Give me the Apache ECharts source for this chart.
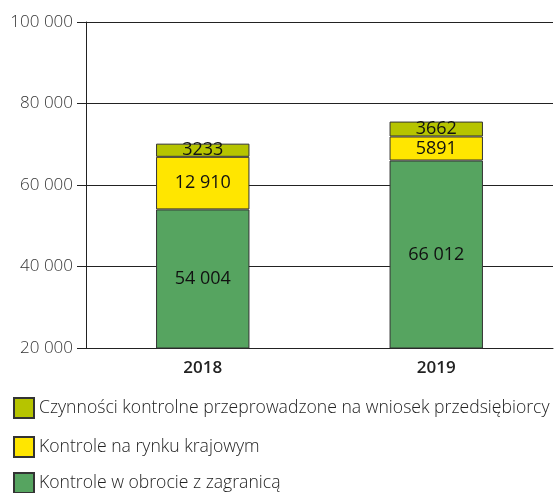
<!DOCTYPE html>
<html>
<head>
<meta charset="utf-8">
<script src="https://cdn.jsdelivr.net/npm/echarts@6/dist/echarts.min.js"></script>
<style>
  html, body { margin: 0; padding: 0; background: #fff; }
  #chart { width: 556px; height: 493px; }
</style>
</head>
<body>
<div id="chart"></div>
<script>
var years = ['2018', '2019'];
var zagranica = [54004, 66012];
var krajowy = [12910, 5891];
var wniosek = [3233, 3662];
var names = [
  'Czynności kontrolne przeprowadzone na wniosek przedsiębiorcy',
  'Kontrole na rynku krajowym',
  'Kontrole w obrocie z zagranicą'
];

function fmt(v) {
  // 4-digit numbers stay without a separator
  var s = String(v);
  if (v < 10000) return s;
  return s.replace(/\B(?=(\d{3})+(?!\d))/g, ' ');
}

var font = '"Open Sans", "Noto Sans", sans-serif';
var chart = echarts.init(document.getElementById('chart'));

function bar(name, data, color) {
  return {
    name: name,
    type: 'bar',
    stack: 'total',
    barWidth: '40%',
    data: data,
    itemStyle: {color: color, borderColor: '#333', borderWidth: 1},
    label: {
      show: true,
      position: 'inside',
      color: '#111',
      fontFamily: font,
      fontSize: 18,
      formatter: function(p) { return fmt(p.value); },
    },
  };
}

// one legend per row, so the rows can't wrap
var legendTops = [397, 436, 472];
var legends = names.map(function(n, i) {
  return {
    left: 13,
    top: legendTops[i],
    padding: 0,
    icon: 'rect',
    itemWidth: 20,
    itemHeight: 20,
    itemGap: 8,
    data: [n],
    textStyle: {fontFamily: font, fontSize: 17.6, fontWeight: 300, color: '#222'},
  };
});

chart.setOption({
  animation: false,
  textStyle: {fontFamily: font},
  grid: {left: 86, right: 3, top: 22, bottom: 145},
  legend: legends,
  xAxis: {
    type: 'category',
    data: years,
    axisLine: {lineStyle: {color: '#222', width: 1}},
    axisTick: {length: 17, lineStyle: {color: '#222'}},
    axisLabel: {color: '#222', fontSize: 17, fontWeight: 600, margin: 12},
  },
  yAxis: {
    type: 'value',
    min: 20000,
    max: 100000,
    interval: 20000,
    axisLine: {show: true, lineStyle: {color: '#222'}},
    axisTick: {show: true, length: 9, lineStyle: {color: '#222'}},
    axisLabel: {
      color: '#333',
      fontSize: 17,
      fontWeight: 300,
      margin: 13,
      formatter: function(v) { return String(v).replace(/\B(?=(\d{3})+(?!\d))/g, ' '); },
    },
    splitLine: {lineStyle: {color: '#222', width: 1}},
  },
  series: [
    bar(names[2], zagranica, '#56a460'),
    bar(names[1], krajowy, '#ffe600'),
    bar(names[0], wniosek, '#b6c400'),
  ],
});
</script>
</body>
</html>
